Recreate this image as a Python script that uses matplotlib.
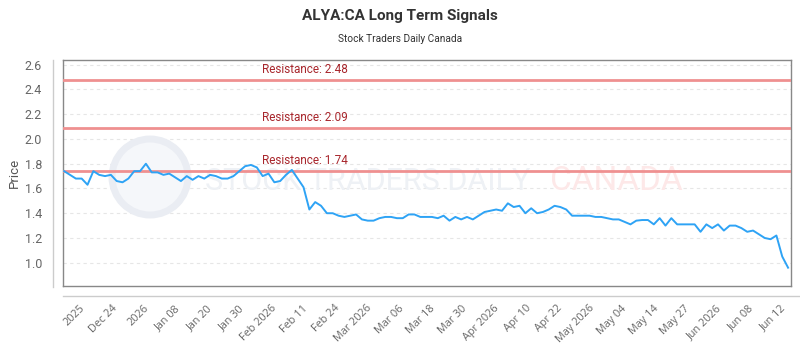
import numpy as np
import matplotlib
matplotlib.use('Agg')
import matplotlib.pyplot as plt
import matplotlib.transforms as mtransforms
from matplotlib.lines import Line2D
from matplotlib.patches import Circle

# prix
price = [1.74, 1.71, 1.68, 1.68, 1.63, 1.74, 1.71, 1.70, 1.71, 1.66,
         1.65, 1.68, 1.74, 1.74, 1.80, 1.73, 1.73, 1.71, 1.72, 1.69,
         1.66, 1.70, 1.67, 1.70, 1.68, 1.71, 1.70, 1.68, 1.68, 1.70,
         1.74, 1.78, 1.79, 1.77, 1.70, 1.72, 1.65, 1.66, 1.71, 1.75,
         1.68, 1.61, 1.43, 1.49, 1.46, 1.40, 1.40, 1.38, 1.37, 1.38,
         1.39, 1.35, 1.34, 1.34, 1.36, 1.37, 1.37, 1.36, 1.36, 1.39,
         1.39, 1.37, 1.37, 1.37, 1.36, 1.38, 1.34, 1.37, 1.35, 1.37,
         1.35, 1.38, 1.41, 1.42, 1.43, 1.42, 1.48, 1.45, 1.46, 1.40,
         1.44, 1.40, 1.41, 1.43, 1.46, 1.45, 1.43, 1.38, 1.38, 1.38,
         1.38, 1.37, 1.37, 1.36, 1.35, 1.35, 1.33, 1.31, 1.34, 1.345,
         1.345, 1.31, 1.36, 1.30, 1.36, 1.31, 1.31, 1.31, 1.31, 1.25,
         1.31, 1.28, 1.31, 1.26, 1.30, 1.30, 1.28, 1.25, 1.26, 1.23,
         1.20, 1.19, 1.22, 1.05, 0.96]

tick_labels = ["2025", "Dec 24", "2026", "Jan 08", "Jan 20", "Jan 30",
               "Feb 2026", "Feb 11", "Feb 24", "Mar 2026", "Mar 06", "Mar 18",
               "Mar 30", "Apr 2026", "Apr 10", "Apr 22", "May 2026", "May 04",
               "May 14", "May 27", "Jun 2026", "Jun 08", "Jun 12"]

resistances = [2.48, 2.09, 1.74]
yticks = [1.0, 1.2, 1.4, 1.6, 1.8, 2.0, 2.2, 2.4, 2.6]

narrow = ['Roboto', 'DejaVu Sans']

W, H = 800, 350
fig = plt.figure(figsize=(8, 3.5), dpi=100)
ax = fig.add_axes([63/W, 1-286/H, 728/W, 226/H])

x = np.arange(len(price))
ax.plot(x, price, color='#2ea3f5', lw=1.4, zorder=5)
ax.set_xlim(-0.2, len(price) - 0.5)
ax.set_ylim(0.812, 2.638)

# lignes de résistance
trans = mtransforms.blended_transform_factory(ax.transAxes, ax.transData)
for r in resistances:
    ax.axhline(r, color='#ef9090', lw=2, zorder=4)
    ax.text(0.273, r + 0.03, 'Resistance: %.2f' % r, transform=trans,
            color='#a8262c', fontsize=8.5, family=narrow, va='bottom', zorder=6)

ax.set_yticks(yticks)
ax.set_yticklabels(['%.1f' % v for v in yticks], family=narrow)
ax.grid(axis='y', color='#e6e6e6', ls=(0, (3, 3)), lw=0.8)
ax.set_axisbelow(True)
ax.tick_params(axis='y', length=0, pad=15, labelsize=9, labelcolor='#666666')

ax.set_xticks(np.linspace(3.3, 123.3, len(tick_labels)))
ax.set_xticklabels(tick_labels, rotation=45, ha='right', va='center',
                   rotation_mode='anchor', family='Open Sans')
ax.tick_params(axis='x', length=0, pad=15, labelsize=7.8, labelcolor='#666666')

for s in ax.spines.values():
    s.set_color('#888888')
    s.set_linewidth(1)

ax.set_ylabel('Price', fontsize=9.5, color='#555555', family=narrow, labelpad=3)

# lignes d'axe décalées
fig.add_artist(Line2D([53/W, 53/W], [1-60/H, 1-287/H], color='#cccccc', lw=1))
fig.add_artist(Line2D([63/W, 800/W], [1-296/H, 1-296/H], color='#cccccc', lw=1))

# filigrane (coordonnées en pixels)
pix = mtransforms.IdentityTransform()
ax.add_patch(Circle((150, H-177), 38, transform=pix, facecolor='#f5f7fa',
                    edgecolor='#eaedf3', lw=5, zorder=1, clip_on=False))
ax.text(205/W, 1-181/H, 'STOCK TRADERS DAILY', fontsize=22, family=narrow,
        color='#eef1f5', va='center', ha='left', zorder=1,
        transform=fig.transFigure)
ax.text(550/W, 1-181/H, 'CANADA', fontsize=24, family=narrow,
        color='#fde8e8', va='center', ha='left', zorder=1,
        transform=fig.transFigure)

fig.text(0.5, 1-16/H, 'ALYA:CA Long Term Signals', ha='center', va='center',
         fontsize=11, fontweight='bold', color='#333333', family=narrow)
fig.text(0.5, 1-39/H, 'Stock Traders Daily Canada', ha='center', va='center',
         fontsize=7.3, color='#333333', family=narrow)

fig.savefig('out.png', dpi=100)
